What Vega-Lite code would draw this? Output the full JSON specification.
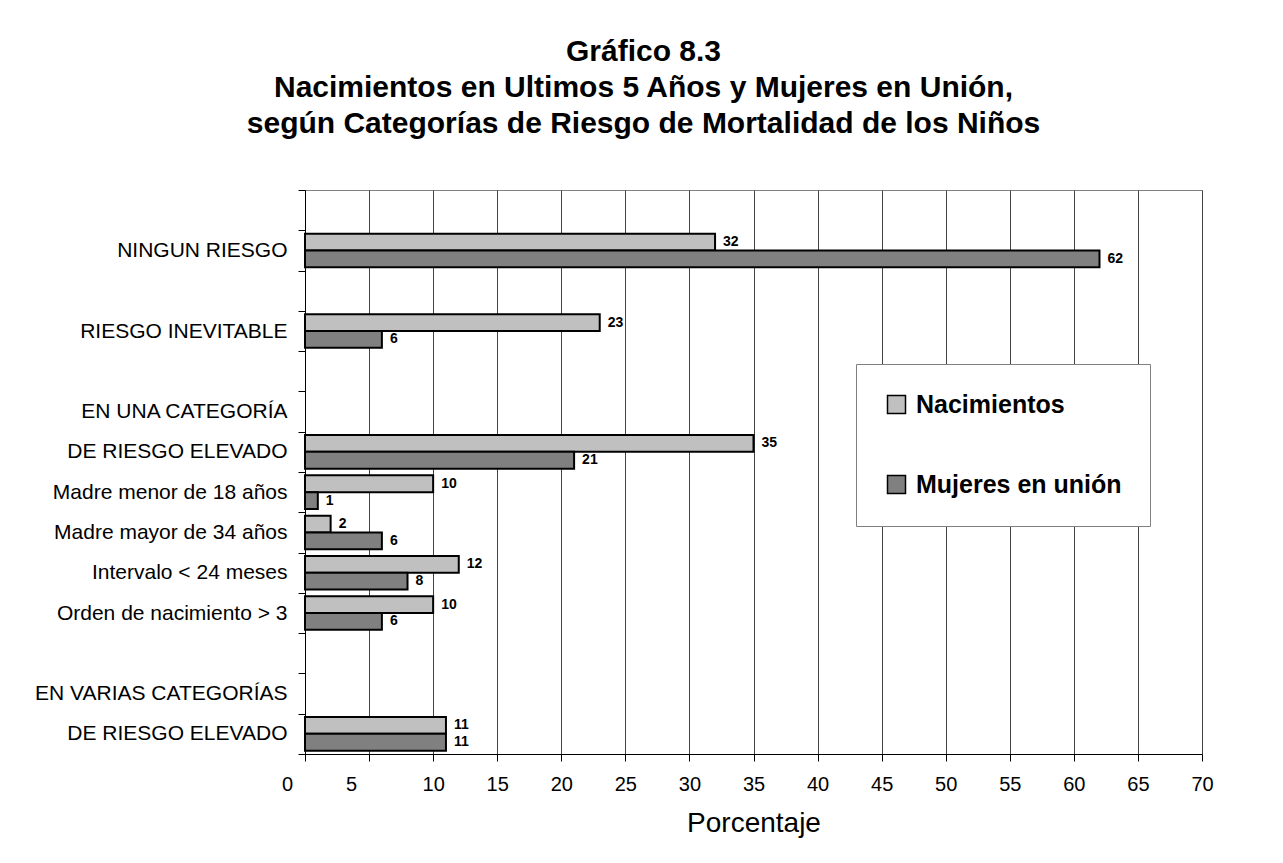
{
  "$schema": "https://vega.github.io/schema/vega-lite/v6.json",
  "autosize": {"type": "none"},
  "width": 897,
  "height": 564,
  "padding": {"left": 305, "top": 190, "right": 81, "bottom": 109},
  "background": "white",
  "title": {
    "text": ["Gráfico 8.3", "Nacimientos  en Ultimos 5 Años y Mujeres en Unión,", "según Categorías de Riesgo de Mortalidad de los Niños"],
    "font": "Liberation Sans",
    "fontSize": 30,
    "fontWeight": "bold",
    "lineHeight": 36,
    "color": "black",
    "anchor": "middle",
    "dx": -110,
    "offset": 40
  },
  "config": {
    "view": {"stroke": "#808080", "strokeWidth": 1},
    "font": "Liberation Sans"
  },
  "data": {
    "values": [
      {"categoria": "NINGUN RIESGO", "serie": "Nacimientos", "valor": 32},
      {"categoria": "NINGUN RIESGO", "serie": "Mujeres en unión", "valor": 62},
      {"categoria": "RIESGO INEVITABLE", "serie": "Nacimientos", "valor": 23},
      {"categoria": "RIESGO INEVITABLE", "serie": "Mujeres en unión", "valor": 6},
      {"categoria": "DE RIESGO ELEVADO", "serie": "Nacimientos", "valor": 35},
      {"categoria": "DE RIESGO ELEVADO", "serie": "Mujeres en unión", "valor": 21},
      {"categoria": "Madre menor de 18 años", "serie": "Nacimientos", "valor": 10},
      {"categoria": "Madre menor de 18 años", "serie": "Mujeres en unión", "valor": 1},
      {"categoria": "Madre mayor de 34 años", "serie": "Nacimientos", "valor": 2},
      {"categoria": "Madre mayor de 34 años", "serie": "Mujeres en unión", "valor": 6},
      {"categoria": "Intervalo < 24 meses", "serie": "Nacimientos", "valor": 12},
      {"categoria": "Intervalo < 24 meses", "serie": "Mujeres en unión", "valor": 8},
      {"categoria": "Orden de nacimiento > 3", "serie": "Nacimientos", "valor": 10},
      {"categoria": "Orden de nacimiento > 3", "serie": "Mujeres en unión", "valor": 6},
      {"categoria": "DE RIESGO ELEVADO ", "serie": "Nacimientos", "valor": 11},
      {"categoria": "DE RIESGO ELEVADO ", "serie": "Mujeres en unión", "valor": 11}
    ]
  },
  "encoding": {
    "y": {
      "field": "categoria",
      "type": "nominal",
      "sort": null,
      "scale": {
        "domain": [" ", "NINGUN RIESGO", "  ", "RIESGO INEVITABLE", "   ", "EN UNA CATEGORÍA", "DE RIESGO ELEVADO", "Madre menor de 18 años", "Madre mayor de 34 años", "Intervalo < 24 meses", "Orden de nacimiento > 3", "    ", "EN VARIAS CATEGORÍAS", "DE RIESGO ELEVADO "],
        "paddingInner": 0,
        "paddingOuter": 0
      },
      "axis": {
        "title": null,
        "tickBand": "extent",
        "labelExpr": "trim(datum.label)",
        "labelFontSize": 21,
        "labelColor": "black",
        "labelPadding": 11,
        "tickSize": 7,
        "tickColor": "black",
        "domainColor": "black",
        "labelLimit": 400,
        "grid": false
      }
    },
    "yOffset": {
      "field": "serie",
      "type": "nominal",
      "sort": ["Nacimientos", "Mujeres en unión"],
      "scale": {"domain": ["Nacimientos", "Mujeres en unión"], "paddingInner": 0, "paddingOuter": 0.2}
    },
    "x": {
      "field": "valor",
      "type": "quantitative",
      "scale": {"domain": [0, 70], "nice": false},
      "axis": {
        "title": "Porcentaje",
        "titleFontSize": 28,
        "titleFontWeight": "normal",
        "titleColor": "black",
        "titlePadding": 15,
        "values": [0, 5, 10, 15, 20, 25, 30, 35, 40, 45, 50, 55, 60, 65, 70],
        "labelFontSize": 20,
        "labelColor": "black",
        "labelPadding": 13,
        "labelFlush": false,
        "labelOffset": {"condition": {"test": "datum.value <= 5", "value": -18}, "value": 0},
        "tickSize": 7,
        "tickColor": "black",
        "domainColor": "black",
        "grid": true,
        "gridColor": "#444444",
        "gridWidth": 1
      }
    }
  },
  "layer": [
    {
      "mark": {"type": "bar", "stroke": "black", "strokeWidth": 2},
      "encoding": {
        "color": {
          "field": "serie",
          "type": "nominal",
          "scale": {"domain": ["Nacimientos", "Mujeres en unión"], "range": ["#C0C0C0", "#808080"]},
          "legend": {
            "title": null,
            "orient": "none",
            "legendX": 551,
            "legendY": 174,
            "fillColor": "white",
            "strokeColor": "#808080",
            "padding": 28,
            "symbolType": "square",
            "symbolSize": 324,
            "symbolStrokeColor": "black",
            "symbolStrokeWidth": 1.5,
            "labelFontSize": 25,
            "labelFontWeight": "bold",
            "labelColor": "black",
            "labelOffset": 7,
            "rowPadding": 54,
            "labelLimit": 400
          }
        }
      }
    },
    {
      "mark": {"type": "text", "align": "left", "baseline": "middle", "dx": 8, "fontSize": 14, "fontWeight": "bold", "color": "black"},
      "encoding": {
        "text": {"field": "valor", "type": "quantitative"}
      }
    }
  ]
}
